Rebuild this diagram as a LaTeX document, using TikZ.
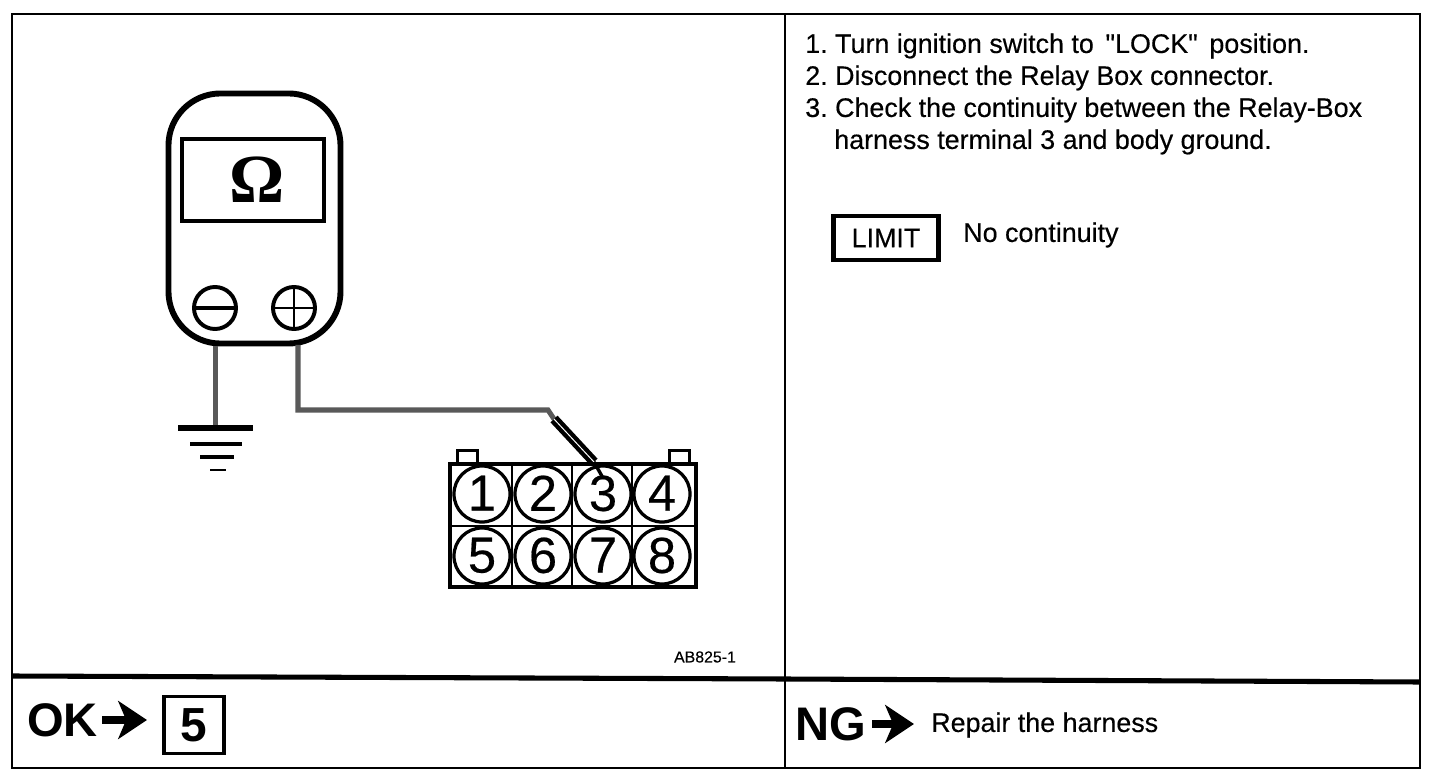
\documentclass[tikz,border=0pt]{standalone}
\usepackage{fontspec}
\setmainfont{Liberation Sans}
\newfontfamily\scanfont{Liberation Sans}[FakeBold=0.35]
\newfontfamily\ohmfont{Liberation Serif}
\usetikzlibrary{arrows.meta}

\begin{document}
\begin{tikzpicture}[
  x=0.025cm,y=-0.025cm,
  rule/.style={line width=2.1pt},
  heavy/.style={line width=3.6pt},
  body/.style={draw,line width=4.2pt,rounded corners=1.3cm,minimum width=4.3cm,minimum height=6.25cm},
  screen/.style={draw,line width=2.8pt,minimum width=3.55cm,minimum height=2.05cm},
  sign/.style={circle,draw,line width=2.8pt,inner sep=0pt,minimum size=1.05cm},
  term/.style={circle,draw,line width=2.3pt,inner sep=0pt,minimum size=1.4cm,font=\scanfont\fontsize{36}{36}\selectfont},
  bar/.style={fill,inner sep=0pt,minimum height=0.08cm},
  tab/.style={draw,line width=1.6pt,minimum width=0.5cm,minimum height=0.33cm},
  wire/.style={draw=black!65,line width=3.6pt},
  txt/.style={anchor=west,inner sep=0pt,font=\scanfont\fontsize{19.1}{22}\selectfont},
  big/.style={anchor=west,inner sep=0pt,font=\fontsize{33.5}{34}\bfseries\selectfont},
  arr/.style={-{Stealth[length=0.72cm,width=0.95cm,inset=0.2cm]},line width=5.4pt}
]
\useasboundingbox (0,0) rectangle (1440,780);
\fill[white] (0,0) rectangle (1440,780);

% -------------------------
% Frame
% -------------------------
\draw[rule] (12,14) rectangle (1420,768);
\draw[rule] (785,14) -- (785,768);
\draw[heavy] (12,676) -- (785,679) -- (1420,682);

% -------------------------
% Meter
% -------------------------
\node[body] (meter) at (254.5,218.5) {};
\node[screen] (display) at (253,180) {};
\node[inner sep=0pt,font=\ohmfont\fontsize{49}{49}\bfseries\selectfont] (ohm) at (257,180) {Ω};
\node[sign] (minus) at (215,308) {};
\node[sign] (plus) at (294,308) {};
\draw[line width=2.4pt] (minus.west) -- (minus.east);
\draw[line width=2pt] (plus.west) -- (plus.east);
\draw[line width=2pt] (plus.north) -- (plus.south);

% -------------------------
% Ground
% -------------------------
\node[bar,minimum width=1.88cm,minimum height=0.15cm] (g1) at (215.5,428) {};
\node[bar,minimum width=1.3cm] (g2) at (216,444) {};
\node[bar,minimum width=0.87cm] (g3) at (217,457) {};
\node[bar,minimum width=0.42cm,minimum height=0.07cm] (g4) at (218,470) {};

% -------------------------
% Relay box connector
% -------------------------
\node[tab] (tabL) at (467.5,457) {};
\node[tab] (tabR) at (679.5,457) {};
\draw[fill=white,line width=3pt] (450,464) rectangle (696,587);
\draw[line width=2pt] (450,526) -- (696,526);
\draw[line width=2pt] (512,464) -- (512,587);
\draw[line width=2pt] (572,464) -- (572,587);
\draw[line width=2pt] (632,464) -- (632,587);

\node[term] (t1) at (482,494) {\raisebox{1.2pt}{1}};
\node[term] (t2) at (543,494) {\raisebox{1.2pt}{2}};
\node[term] (t3) at (603,494) {\raisebox{1.2pt}{3}};
\node[term] (t4) at (662,494) {\raisebox{1.2pt}{4}};
\node[term] (t5) at (482,556) {\raisebox{1.2pt}{5}};
\node[term] (t6) at (543,556) {\raisebox{1.2pt}{6}};
\node[term] (t7) at (603,556) {\raisebox{1.2pt}{7}};
\node[term] (t8) at (662,556) {\raisebox{1.2pt}{8}};

% -------------------------
% Leads
% -------------------------
\coordinate (minusOut) at (meter.south -| g1.north);
\coordinate (plusOut) at (298,345);
\coordinate (plusBend) at (298,410);
\coordinate (probeBack) at (548,410);
\coordinate (probeStart) at (554,419);
\coordinate (probeEnd) at (594,462);
\coordinate (probeTip) at (603,478);

\draw[wire] (minusOut) -- (g1.north);
\draw[wire] (plusOut) -- (plusBend) -- (probeBack) -- (probeStart);
\draw[line width=3.1pt,double=white,double distance=0.7pt] (probeStart) -- (probeEnd);
\draw[line width=2.4pt] (probeEnd) -- (probeTip);

\node[inner sep=0pt,font=\scanfont\fontsize{11.3}{12}\selectfont] (code) at (705,657) {AB825-1};

% -------------------------
% Instructions
% -------------------------
\node[txt] (s1) at (805,46) {\frenchspacing 1. Turn ignition switch to \hspace{3pt}\char34 LOCK\char34\hspace{3pt} position.};
\node[txt] (s2) at (805,78) {\frenchspacing 2. Disconnect the Relay Box connector.};
\node[txt] (s3) at (805,110) {\frenchspacing 3. Check the continuity between the Relay-Box};
\node[txt] (s4) at (834,142) {harness terminal 3 and body ground.};

\node[draw,line width=3pt,minimum width=2.62cm,minimum height=1.1cm,inner sep=0pt,font=\scanfont\fontsize{19.1}{22}\selectfont] (limit) at (886,238) {\raisebox{-1.4pt}{LIMIT}};
\node[txt] (nocont) at (963,235) {No continuity};

% -------------------------
% Results
% -------------------------
\node[big] (ok) at (27,720) {OK};
\coordinate (okTip) at (147,720);
\draw[arr] (ok.east) ++(4,0) -- (okTip);
\node[draw,line width=2.4pt,minimum width=1.5cm,minimum height=1.43cm,inner sep=0pt,font=\fontsize{34}{34}\bfseries\selectfont] (five) at (194,725) {5};

\node[big] (ng) at (795,724) {NG};
\coordinate (ngTip) at (914,724);
\draw[arr] (ng.east) ++(6,0) -- (ngTip);
\node[txt] (repair) at (931,725) {Repair the harness};

\end{tikzpicture}
\end{document}
